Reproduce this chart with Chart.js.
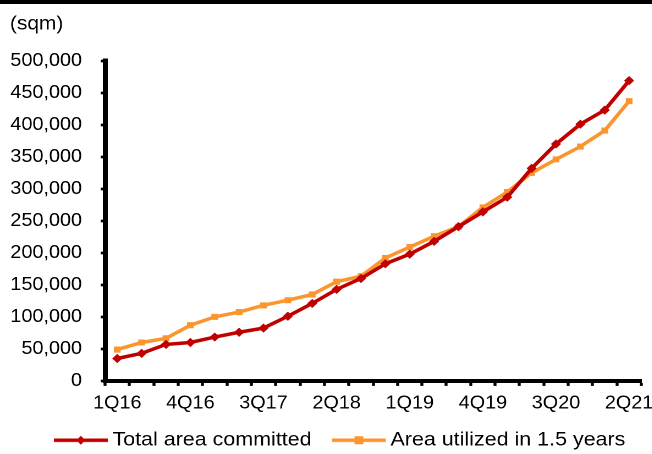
<!DOCTYPE html>
<html>
<head>
<meta charset="utf-8">
<script src="https://cdn.jsdelivr.net/npm/chart.js@4.4.1/dist/chart.umd.min.js"></script>
<style>
  html, body { margin: 0; padding: 0; background: #fff; }
  #wrap { position: relative; width: 652px; height: 454px; overflow: hidden; }
  #bar { position: absolute; left: 0; top: 0; width: 652px; height: 4px; background: #000; z-index: 2; }
  #c { display: block; transform: scaleX(1.1); transform-origin: 0 0; }
</style>
</head>
<body>
<div id="wrap">
  <div id="bar"></div>
  <canvas id="c" width="593" height="454"></canvas>
</div>
<script>
const categories = ['1Q16','2Q16','3Q16','4Q16','1Q17','2Q17','3Q17','4Q17','1Q18','2Q18','3Q18','4Q18',
                    '1Q19','2Q19','3Q19','4Q19','1Q20','2Q20','3Q20','4Q20','1Q21','2Q21'];
const totalCommitted = [35000, 43000, 57000, 60000, 68500, 76000, 82500, 101000, 121000, 143000, 160000, 183000,
                        198000, 218000, 241000, 264000, 287000, 332000, 370000, 401000, 423000, 469000];
const utilized15 = [49000, 60000, 66500, 87000, 100000, 107500, 118000, 126000, 135000, 155000, 163500, 192000,
                    209000, 226000, 241000, 271000, 295000, 325000, 346000, 366000, 391000, 437000];
const seriesNames = ['Total area committed', 'Area utilized in 1.5 years'];
const yTicks = { min: 0, max: 500000, step: 50000 };
const unitLabel = '(sqm)';

const RED = '#C00000';
const ORANGE = '#FB962F';
const FONT = "'Liberation Sans', Arial, sans-serif";

// legend icon: a short line with the series marker in its middle
const BOXW = 53;
function legendIcon(color, shape) {
  const W = 66, H = 12, s = 2;
  const c = document.createElement('canvas');
  c.width = W * s; c.height = H * s;
  const g = c.getContext('2d');
  g.scale(s, s);
  const x0 = 16, x1 = 65, cy = 6, cx = (x0 + x1) / 2;
  g.strokeStyle = color; g.lineWidth = 3.5;
  g.beginPath(); g.moveTo(x0, cy); g.lineTo(x1, cy); g.stroke();
  g.fillStyle = color;
  if (shape === 'diamond') {
    g.beginPath(); g.moveTo(cx, cy - 4.5); g.lineTo(cx + 4, cy); g.lineTo(cx, cy + 4.5); g.lineTo(cx - 4, cy); g.closePath(); g.fill();
  } else {
    g.fillRect(cx - 4, cy - 4, 8, 8);
  }
  const img = new Image(W, H);
  img.src = c.toDataURL();
  return img;
}

Chart.defaults.font.family = FONT;
Chart.defaults.color = '#000';

const icons = [legendIcon(RED, 'diamond'), legendIcon(ORANGE, 'square')];

// nudge the legend row to the right, as in the original layout
const legendShift = {
  id: 'legendShift',
  afterUpdate(chart) {
    const L = chart.legend;
    if (!L) return;
    L.left += 8; L.right += 8;
    L.adjustHitBoxes();
  }
};

function build() {
  new Chart(document.getElementById('c'), {
    type: 'line',
    data: {
      labels: categories,
      datasets: [
        { label: seriesNames[0], data: totalCommitted, borderColor: RED, backgroundColor: RED,
          borderWidth: 3.5, pointStyle: 'rectRot', pointRadius: 4.6, pointBorderWidth: 0,
          pointBackgroundColor: RED, tension: 0 },
        { label: seriesNames[1], data: utilized15, borderColor: ORANGE, backgroundColor: ORANGE,
          borderWidth: 3.5, pointStyle: 'rect', pointRadius: 4.3, pointBorderWidth: 0,
          pointBackgroundColor: ORANGE, tension: 0 }
      ]
    },
    plugins: [legendShift],
    options: {
      responsive: false,
      animation: false,
      devicePixelRatio: 2,
      layout: { padding: { left: 9, right: 10, top: 4, bottom: -6 } },
      plugins: {
        tooltip: { enabled: false },
        title: {
          display: true, text: unitLabel, align: 'start', color: '#000',
          font: { size: 19, weight: 'normal', family: FONT },
          padding: { top: 9, bottom: 25 }
        },
        legend: {
          position: 'bottom',
          labels: {
            color: '#000',
            font: { size: 19.5, family: FONT },
            usePointStyle: true,
            pointStyleWidth: BOXW,
            padding: 9,
            generateLabels(chart) {
              return chart.data.datasets.map((ds, i) => ({
                text: ds.label, pointStyle: icons[i], fillStyle: ds.borderColor,
                strokeStyle: ds.borderColor, lineWidth: 0, hidden: false, datasetIndex: i
              }));
            }
          }
        }
      },
      scales: {
        x: {
          offset: true,
          afterFit(scale) { scale.paddingLeft = 0; scale.paddingRight = 0; },
          grid: { offset: true, drawOnChartArea: false, drawTicks: true, tickLength: 5, tickWidth: 2.7, tickColor: '#000' },
          border: { display: true, color: '#000', width: 4 },
          ticks: {
            autoSkip: false, maxRotation: 0, minRotation: 0, padding: 7,
            font: { size: 18, family: FONT }, color: '#000',
            callback(v, i) { return i % 3 === 0 ? categories[i] : ''; }
          }
        },
        y: {
          min: yTicks.min, max: yTicks.max,
          afterFit(scale) { scale.width = 86.5; },
          grid: { drawOnChartArea: false, drawTicks: true, tickLength: 4, tickWidth: 2.7, tickColor: '#000' },
          border: { display: true, color: '#000', width: 4.5 },
          ticks: {
            stepSize: yTicks.step, padding: 17,
            font: { size: 18, family: FONT }, color: '#000',
            callback(v) { return v.toLocaleString('en-US'); }
          }
        }
      }
    }
  });
}

Promise.all(icons.map(im => im.complete ? Promise.resolve() : new Promise(r => { im.onload = r; im.onerror = r; }))).then(build);
</script>
</body>
</html>
